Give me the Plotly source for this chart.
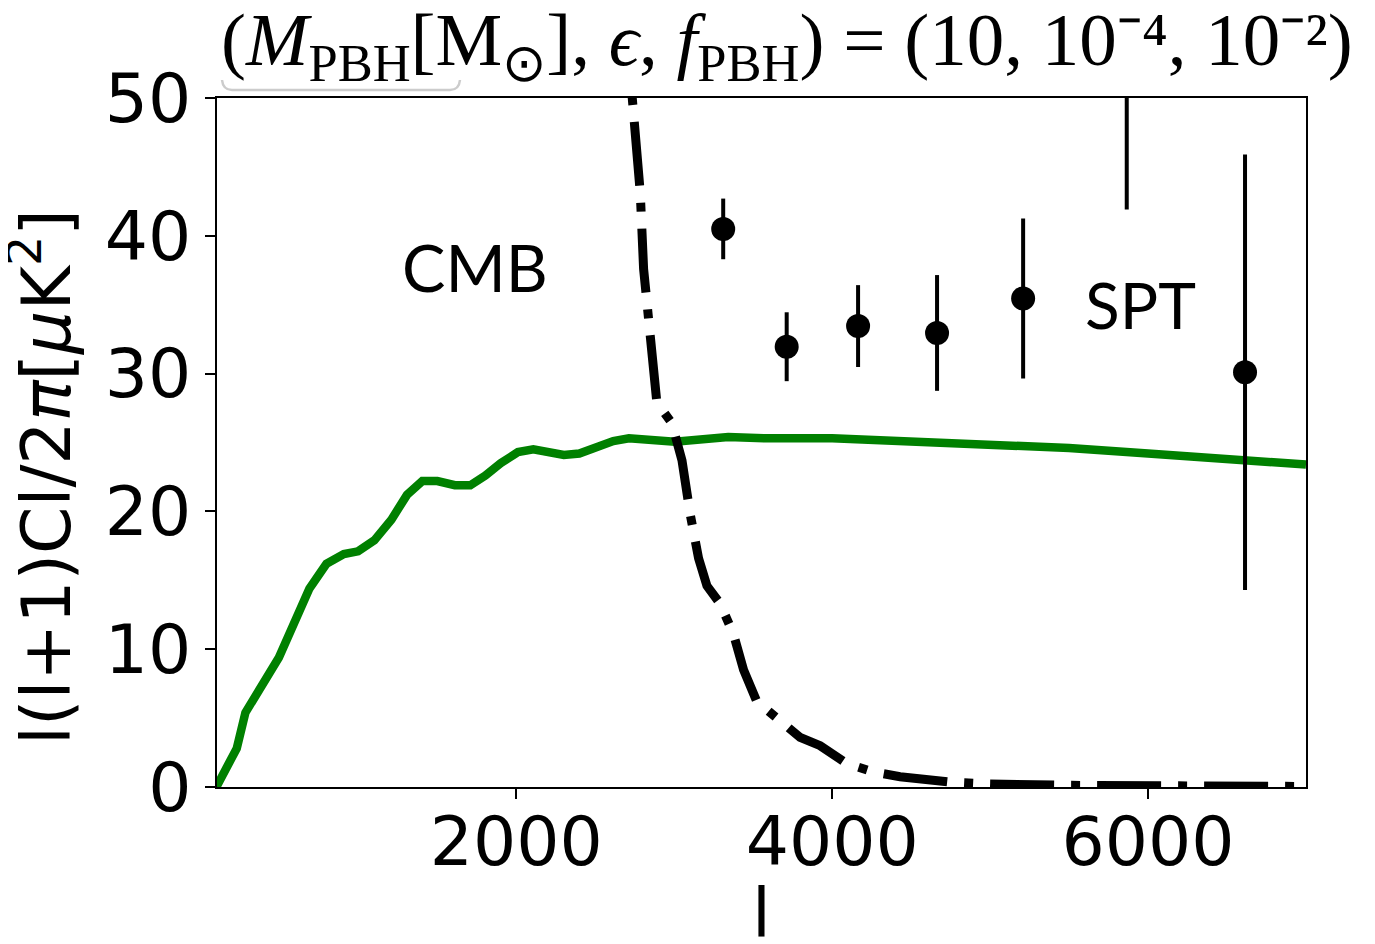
import plotly.graph_objects as go

# CMB spectrum (green)
cmb_l = [101, 230, 285, 497, 690, 798, 908, 998, 1101, 1209, 1308, 1405, 1500, 1611, 1709,
         1804, 1901, 2010, 2108, 2301, 2399, 2614, 2713, 2905, 3004, 3342, 3582, 4000, 4500,
         5000, 5500, 6000, 6500, 7000]
cmb_dl = [0.0, 2.8, 5.4, 9.4, 14.4, 16.2, 16.9, 17.1, 17.9, 19.4, 21.2, 22.2, 22.2, 21.9, 21.9,
          22.6, 23.5, 24.3, 24.5, 24.1, 24.2, 25.1, 25.3, 25.1, 25.06, 25.4, 25.3, 25.3, 25.1,
          24.9, 24.6, 24.2, 23.8, 23.4]

# PBH contribution (black dash-dot)
pbh_l = [2690, 2742, 2785, 2806, 2837, 2859, 2890, 2985, 3049, 3101, 3154, 3207, 3291, 3375,
         3439, 3523, 3671, 3797, 3924, 4093, 4259, 4430, 4747, 5000, 5500, 6000, 6500, 7000]
pbh_dl = [56.0, 49.3, 43.1, 37.6, 33.7, 31.1, 27.9, 26.4, 23.7, 19.8, 16.6, 14.6, 13.3, 11.1,
          8.5, 6.2, 4.9, 3.6, 3.0, 1.7, 1.1, 0.75, 0.36, 0.22, 0.12, 0.08, 0.05, 0.04]

# SPT data points
spt_l = [3310, 3712, 4164, 4664, 5209, 5865, 6614]
spt_dl = [40.5, 31.95, 33.45, 32.95, 35.45, 55.0, 30.1]
spt_err = [2.2, 2.5, 2.97, 4.2, 5.8, 13.1, 15.8]

x_ticks = [2000, 4000, 6000]
y_ticks = [0, 10, 20, 30, 40, 50]

# plot-area geometry in page pixels (used only to place text in paper coords)
PL, PR, PT, PB = 217, 1306, 98, 787
PW, PH = PR - PL, PB - PT


def px(x):
    return (x - PL) / PW


def py(y):
    return (PB - y) / PH


fig = go.Figure()
fig.add_trace(go.Scatter(x=cmb_l, y=cmb_dl, mode="lines",
                         line=dict(color="#008000", width=8.5), showlegend=False))
fig.add_trace(go.Scatter(x=pbh_l, y=pbh_dl, mode="lines",
                         line=dict(color="black", width=9, dash="64px,17px,9px,17px"),
                         showlegend=False))
fig.add_trace(go.Scatter(x=spt_l, y=spt_dl, mode="markers",
                         marker=dict(color="black", size=24),
                         error_y=dict(type="data", array=spt_err, visible=True,
                                      color="black", thickness=4, width=0),
                         showlegend=False, cliponaxis=True))

axis_common = dict(showline=True, linecolor="black", linewidth=2, mirror=True,
                   ticks="outside", ticklen=10, tickwidth=2, tickcolor="black",
                   showgrid=False, zeroline=False,
                   tickfont=dict(family="DejaVu Sans", size=68, color="black"))
fig.update_xaxes(range=[105, 7000], tickvals=x_ticks, ticklabelstandoff=-16, **axis_common)
fig.update_yaxes(range=[0, 50], tickvals=y_ticks, **axis_common)

fig.add_annotation(text="CMB", x=1740, y=37.7, xref="x", yref="y", showarrow=False,
                   font=dict(family="Lato", size=65, color="black"))
fig.add_annotation(text="SPT", x=5949, y=35.0, xref="x", yref="y", showarrow=False,
                   font=dict(family="Lato", size=64, color="black"))

# axis titles
fig.add_annotation(text="l(l+1)Cl/2<i>π</i>[<i>μ</i>K<sup>2</sup>]", textangle=-90,
                   x=px(41), y=py(477), xref="paper", yref="paper",
                   showarrow=False, xanchor="center", yanchor="middle",
                   font=dict(family="DejaVu Sans", size=68, color="black"))
fig.add_annotation(text="l", x=px(761), y=py(913),
                   xref="paper", yref="paper", showarrow=False,
                   xanchor="center", yanchor="middle",
                   font=dict(family="DejaVu Sans", size=68, color="black"))

# title
fig.add_annotation(
    text="(<i>M</i><sub>PBH</sub>[M<sub>⊙</sub>], <i>ϵ</i>, <i>f</i><sub>PBH</sub>) = (10, 10⁻⁴, 10⁻²)",
    x=px(787), y=py(45), xref="paper", yref="paper",
    showarrow=False, xanchor="center", yanchor="middle",
    font=dict(family="Liberation Serif", size=75, color="black"))

# faint grey bracket under the start of the title (as in the reference)
fig.add_shape(type="path", xref="paper", yref="paper",
              path=(f"M {px(222)},{py(80)} Q {px(223)},{py(90)} {px(232)},{py(90)} "
                    f"L {px(450)},{py(90)} Q {px(459)},{py(90)} {px(460)},{py(80)}"),
              line=dict(color="#cccccc", width=2.5))

fig.update_layout(width=1367, height=936, plot_bgcolor="white", paper_bgcolor="white",
                  margin=dict(l=PL - 8, r=1367 + 8 - PR, t=PT - 8, b=936 + 8 - PB))

fig.write_html("out.html")
